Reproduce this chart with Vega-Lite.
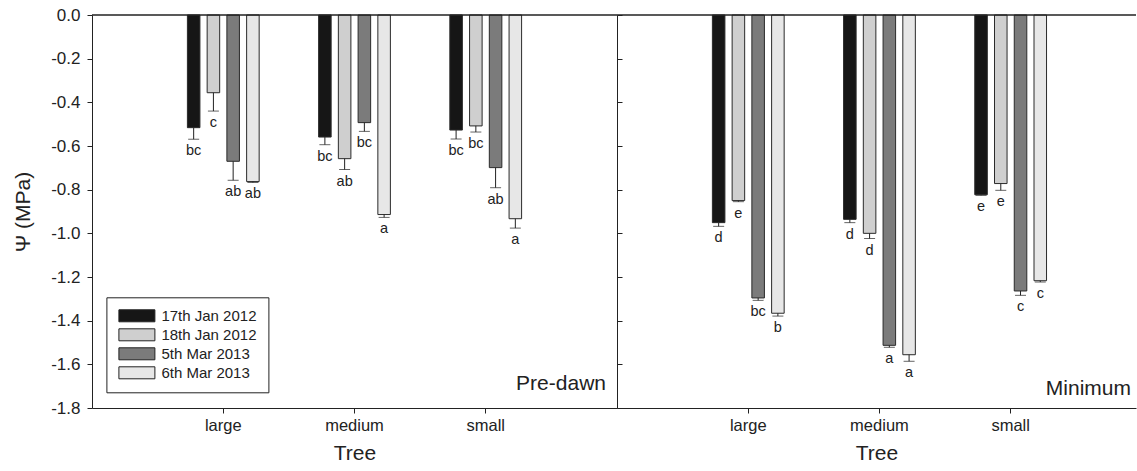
{
  "$schema": "https://vega.github.io/schema/vega-lite/v6.json",
  "padding": {"left": 12, "top": 6, "right": 0, "bottom": 0},
  "spacing": 0,
  "bounds": "flush",
  "datasets": {
    "main": [
      {"panel": "Pre-dawn", "tree": "large", "date": "17th Jan 2012", "psi": -0.516, "lo": -0.569, "letter": "bc"},
      {"panel": "Pre-dawn", "tree": "large", "date": "18th Jan 2012", "psi": -0.356, "lo": -0.44, "letter": "c"},
      {"panel": "Pre-dawn", "tree": "large", "date": "5th Mar 2013", "psi": -0.67, "lo": -0.757, "letter": "ab"},
      {"panel": "Pre-dawn", "tree": "large", "date": "6th Mar 2013", "psi": -0.763, "lo": -0.767, "letter": "ab"},
      {"panel": "Pre-dawn", "tree": "medium", "date": "17th Jan 2012", "psi": -0.559, "lo": -0.594, "letter": "bc"},
      {"panel": "Pre-dawn", "tree": "medium", "date": "18th Jan 2012", "psi": -0.658, "lo": -0.708, "letter": "ab"},
      {"panel": "Pre-dawn", "tree": "medium", "date": "5th Mar 2013", "psi": -0.493, "lo": -0.533, "letter": "bc"},
      {"panel": "Pre-dawn", "tree": "medium", "date": "6th Mar 2013", "psi": -0.914, "lo": -0.927, "letter": "a"},
      {"panel": "Pre-dawn", "tree": "small", "date": "17th Jan 2012", "psi": -0.527, "lo": -0.568, "letter": "bc"},
      {"panel": "Pre-dawn", "tree": "small", "date": "18th Jan 2012", "psi": -0.508, "lo": -0.536, "letter": "bc"},
      {"panel": "Pre-dawn", "tree": "small", "date": "5th Mar 2013", "psi": -0.699, "lo": -0.791, "letter": "ab"},
      {"panel": "Pre-dawn", "tree": "small", "date": "6th Mar 2013", "psi": -0.933, "lo": -0.976, "letter": "a"},
      {"panel": "Minimum", "tree": "large", "date": "17th Jan 2012", "psi": -0.951, "lo": -0.968, "letter": "d"},
      {"panel": "Minimum", "tree": "large", "date": "18th Jan 2012", "psi": -0.85, "lo": -0.855, "letter": "e"},
      {"panel": "Minimum", "tree": "large", "date": "5th Mar 2013", "psi": -1.296, "lo": -1.307, "letter": "bc"},
      {"panel": "Minimum", "tree": "large", "date": "6th Mar 2013", "psi": -1.366, "lo": -1.379, "letter": "b"},
      {"panel": "Minimum", "tree": "medium", "date": "17th Jan 2012", "psi": -0.936, "lo": -0.951, "letter": "d"},
      {"panel": "Minimum", "tree": "medium", "date": "18th Jan 2012", "psi": -1.0, "lo": -1.024, "letter": "d"},
      {"panel": "Minimum", "tree": "medium", "date": "5th Mar 2013", "psi": -1.513, "lo": -1.522, "letter": "a"},
      {"panel": "Minimum", "tree": "medium", "date": "6th Mar 2013", "psi": -1.556, "lo": -1.586, "letter": "a"},
      {"panel": "Minimum", "tree": "small", "date": "17th Jan 2012", "psi": -0.823, "lo": -0.826, "letter": "e"},
      {"panel": "Minimum", "tree": "small", "date": "18th Jan 2012", "psi": -0.772, "lo": -0.803, "letter": "e"},
      {"panel": "Minimum", "tree": "small", "date": "5th Mar 2013", "psi": -1.264, "lo": -1.284, "letter": "c"},
      {"panel": "Minimum", "tree": "small", "date": "6th Mar 2013", "psi": -1.217, "lo": -1.223, "letter": "c"}
    ]
  },
  "resolve": {"scale": {"x": "independent", "color": "independent"}, "legend": {"color": "independent"}},
  "hconcat": [
    {
      "width": 525,
      "height": 393,
      "layer": [
        {
          "data": {"name": "main"},
          "transform": [{"filter": "datum.panel == 'Pre-dawn'"}],
          "mark": {"type": "bar", "stroke": "#2a2a2a", "strokeWidth": 1},
          "encoding": {
            "x": {"field": "tree", "type": "nominal", "sort": ["large", "medium", "small"],
                  "scale": {"paddingInner": 0.453, "paddingOuter": 0.727},
                  "axis": {"title": "Tree", "labelAngle": 0}},
            "xOffset": {"field": "date", "type": "nominal", "sort": ["17th Jan 2012", "18th Jan 2012", "5th Mar 2013", "6th Mar 2013"],
                        "scale": {"paddingInner": 0.365, "paddingOuter": 0}},
            "y": {"field": "psi", "type": "quantitative",
                  "scale": {"domain": [-1.8, 0], "nice": false},
                  "axis": {"title": "Ψ (MPa)", "values": [0, -0.2, -0.4, -0.6, -0.8, -1.0, -1.2, -1.4, -1.6, -1.8],
                           "format": ".1f", "labelExpr": "replace(datum.label, '\u2212', '-')",
                           "labelPadding": 7, "titlePadding": 17, "labelFontSize": 17}},
            "color": {"field": "date", "type": "nominal",
                      "scale": {"domain": ["17th Jan 2012", "18th Jan 2012", "5th Mar 2013", "6th Mar 2013"],
                                "range": ["#161616", "#cfcfcf", "#7b7b7b", "#e7e7e7"]},
                      "legend": {"title": null, "orient": "none", "legendX": 14.4, "legendY": 282.3,
                                 "symbolType": "M-3,-1H3V1H-3Z", "symbolSize": 144,
                                 "symbolStrokeColor": "#222", "symbolStrokeWidth": 1,
                                 "symbolOffset": 12, "labelOffset": 17,
                                 "labelFont": "Liberation Sans", "labelFontSize": 15, "labelColor": "#222",
                                 "rowPadding": 2, "padding": 11,
                                 "strokeColor": "#222", "fillColor": "white"}}
          }
        },
        {
          "data": {"name": "main"},
          "transform": [{"filter": "datum.panel == 'Pre-dawn'"}],
          "mark": {"type": "rule", "color": "#222", "strokeWidth": 1},
          "encoding": {
            "x": {"field": "tree", "type": "nominal", "sort": ["large", "medium", "small"]},
            "xOffset": {"field": "date", "type": "nominal", "sort": ["17th Jan 2012", "18th Jan 2012", "5th Mar 2013", "6th Mar 2013"]},
            "y": {"field": "psi", "type": "quantitative"},
            "y2": {"field": "lo"}
          }
        },
        {
          "data": {"name": "main"},
          "transform": [{"filter": "datum.panel == 'Pre-dawn'"}],
          "mark": {"type": "tick", "color": "#222", "size": 11, "thickness": 1},
          "encoding": {
            "x": {"field": "tree", "type": "nominal", "sort": ["large", "medium", "small"]},
            "xOffset": {"field": "date", "type": "nominal", "sort": ["17th Jan 2012", "18th Jan 2012", "5th Mar 2013", "6th Mar 2013"]},
            "y": {"field": "lo", "type": "quantitative"}
          }
        },
        {
          "data": {"name": "main"},
          "transform": [{"filter": "datum.panel == 'Pre-dawn'"}],
          "mark": {"type": "text", "color": "#222", "fontSize": 14.5, "font": "Liberation Sans", "baseline": "alphabetic", "dy": 16},
          "encoding": {
            "x": {"field": "tree", "type": "nominal", "sort": ["large", "medium", "small"]},
            "xOffset": {"field": "date", "type": "nominal", "sort": ["17th Jan 2012", "18th Jan 2012", "5th Mar 2013", "6th Mar 2013"]},
            "y": {"field": "lo", "type": "quantitative"},
            "text": {"field": "letter"}
          }
        },
        {
          "data": {"values": [{"z": 0}]},
          "mark": {"type": "rule", "color": "#222", "strokeWidth": 1.5},
          "encoding": {"y": {"field": "z", "type": "quantitative"}}
        },
        {
          "data": {"values": [{"label": "Pre-dawn", "ypos": -1.719}]},
          "mark": {"type": "text", "x": "width", "dx": -11, "align": "right", "baseline": "alphabetic", "fontSize": 21, "font": "Liberation Sans", "color": "#222"},
          "encoding": {"y": {"field": "ypos", "type": "quantitative"}, "text": {"field": "label"}}
        }
      ]
    },
    {
      "width": 519,
      "height": 393,
      "layer": [
        {
          "data": {"name": "main"},
          "transform": [{"filter": "datum.panel == 'Minimum'"}],
          "mark": {"type": "bar", "stroke": "#2a2a2a", "strokeWidth": 1},
          "encoding": {
            "x": {"field": "tree", "type": "nominal", "sort": ["large", "medium", "small"],
                  "scale": {"paddingInner": 0.453, "paddingOuter": 0.7045, "align": 0.516},
                  "axis": {"title": "Tree", "labelAngle": 0}},
            "xOffset": {"field": "date", "type": "nominal", "sort": ["17th Jan 2012", "18th Jan 2012", "5th Mar 2013", "6th Mar 2013"],
                        "scale": {"paddingInner": 0.365, "paddingOuter": 0}},
            "y": {"field": "psi", "type": "quantitative",
                  "scale": {"domain": [-1.8, 0], "nice": false},
                  "axis": {"title": null, "labels": false, "tickSize": -5,
                           "values": [0, -0.2, -0.4, -0.6, -0.8, -1.0, -1.2, -1.4, -1.6, -1.8]}},
            "color": {"field": "date", "type": "nominal",
                      "scale": {"domain": ["17th Jan 2012", "18th Jan 2012", "5th Mar 2013", "6th Mar 2013"],
                                "range": ["#161616", "#cfcfcf", "#7b7b7b", "#e7e7e7"]},
                      "legend": null}
          }
        },
        {
          "data": {"name": "main"},
          "transform": [{"filter": "datum.panel == 'Minimum'"}],
          "mark": {"type": "rule", "color": "#222", "strokeWidth": 1},
          "encoding": {
            "x": {"field": "tree", "type": "nominal", "sort": ["large", "medium", "small"]},
            "xOffset": {"field": "date", "type": "nominal", "sort": ["17th Jan 2012", "18th Jan 2012", "5th Mar 2013", "6th Mar 2013"]},
            "y": {"field": "psi", "type": "quantitative"},
            "y2": {"field": "lo"}
          }
        },
        {
          "data": {"name": "main"},
          "transform": [{"filter": "datum.panel == 'Minimum'"}],
          "mark": {"type": "tick", "color": "#222", "size": 11, "thickness": 1},
          "encoding": {
            "x": {"field": "tree", "type": "nominal", "sort": ["large", "medium", "small"]},
            "xOffset": {"field": "date", "type": "nominal", "sort": ["17th Jan 2012", "18th Jan 2012", "5th Mar 2013", "6th Mar 2013"]},
            "y": {"field": "lo", "type": "quantitative"}
          }
        },
        {
          "data": {"name": "main"},
          "transform": [{"filter": "datum.panel == 'Minimum'"}],
          "mark": {"type": "text", "color": "#222", "fontSize": 14.5, "font": "Liberation Sans", "baseline": "alphabetic", "dy": 16},
          "encoding": {
            "x": {"field": "tree", "type": "nominal", "sort": ["large", "medium", "small"]},
            "xOffset": {"field": "date", "type": "nominal", "sort": ["17th Jan 2012", "18th Jan 2012", "5th Mar 2013", "6th Mar 2013"]},
            "y": {"field": "lo", "type": "quantitative"},
            "text": {"field": "letter"}
          }
        },
        {
          "data": {"values": [{"z": 0}]},
          "mark": {"type": "rule", "color": "#222", "strokeWidth": 1.5},
          "encoding": {"y": {"field": "z", "type": "quantitative"}}
        },
        {
          "data": {"values": [{"label": "Minimum", "ypos": -1.742}]},
          "mark": {"type": "text", "x": "width", "dx": -5, "align": "right", "baseline": "alphabetic", "fontSize": 21, "font": "Liberation Sans", "color": "#222"},
          "encoding": {"y": {"field": "ypos", "type": "quantitative"}, "text": {"field": "label"}}
        }
      ]
    }
  ],
  "config": {
    "view": {"stroke": null},
    "font": "Liberation Sans",
    "axis": {
      "domainColor": "#222", "tickColor": "#222", "labelColor": "#222", "titleColor": "#222",
      "labelFont": "Liberation Sans", "titleFont": "Liberation Sans",
      "labelFontSize": 16.5, "titleFontSize": 21, "titleFontWeight": "normal",
      "tickSize": 5, "grid": false, "domainWidth": 1
    },
    "axisX": {"labelPadding": 4, "titlePadding": 9}
  }
}
